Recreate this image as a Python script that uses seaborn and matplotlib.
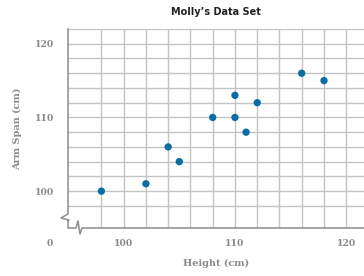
import seaborn as sns
import matplotlib.pyplot as plt
import pandas as pd

# Данные Молли: рост и размах рук (см)
height = [98, 102, 104, 105, 108, 110, 110, 111, 112, 116, 118]
arm_span = [100, 101, 106, 104, 110, 113, 110, 108, 112, 116, 115]
x_ticks = [100, 110, 120]
y_ticks = [100, 110, 120]

df = pd.DataFrame({'Height': height, 'Arm Span': arm_span})

W, H = 364, 276
fig = plt.figure(figsize=(W / 100, H / 100), dpi=100)
ax = fig.add_axes([68 / W, 1 - 228 / H, (364 - 68) / W, (228 - 29) / H])

grid_c = '#c4c4c4'
axis_c = '#8c8c8c'
label_c = '#8a8a8a'

sns.scatterplot(data=df, x='Height', y='Arm Span', ax=ax, color='#0a6ea6',
                s=28, edgecolor='none', zorder=3)

ax.set_xlim(95, 95 + (364 - 68) / 11.13)
ax.set_ylim(95, 122)
for gx in range(98, 122, 2):
    ax.axvline(gx, color=grid_c, lw=1, zorder=1)
for gy in range(98, 124, 2):
    ax.axhline(gy, color=grid_c, lw=1, zorder=1)

for s in ax.spines.values():
    s.set_visible(False)

ax.set_xticks(x_ticks)
ax.set_yticks(y_ticks)
tick_font = dict(family='DejaVu Serif', weight='bold', size=6.7, color=label_c)
ax.set_xticklabels([str(t) for t in x_ticks], **tick_font)
ax.set_yticklabels([str(t) for t in y_ticks], **tick_font)
ax.tick_params(axis='x', length=0, pad=8)
ax.tick_params(axis='y', length=0, pad=10)
ax.set_xlabel('Height (cm)', fontfamily='DejaVu Serif', fontweight='bold',
              fontsize=7, color=label_c, labelpad=8)
ax.set_ylabel('Arm Span (cm)', fontfamily='DejaVu Serif', fontweight='bold',
              fontsize=7, color=label_c)
ax.yaxis.set_label_coords(-46 / (364 - 68), 0.5)
ax.set_title('Molly\u2019s Data Set', fontfamily='DejaVu Sans', fontweight='bold',
             fontsize=7, color='#222222', pad=10)

# "0" в начале разорванной оси
fig.text(50 / W, 1 - 243 / H, '0', ha='center', va='center', **tick_font)

# оси с разрывом (в пикселях фигуры)
def px(pts):
    return [p[0] / W for p in pts], [1 - p[1] / H for p in pts]

lx, ly = px([(68, 29), (68, 214), (61, 218), (69, 220), (68, 221), (68, 228), (76, 228),
             (78, 221), (80, 234), (82, 228), (364, 228)])
fig.add_artist(plt.Line2D(lx, ly, color=axis_c, lw=1.1, transform=fig.transFigure))

fig.savefig('out.png', dpi=100)
